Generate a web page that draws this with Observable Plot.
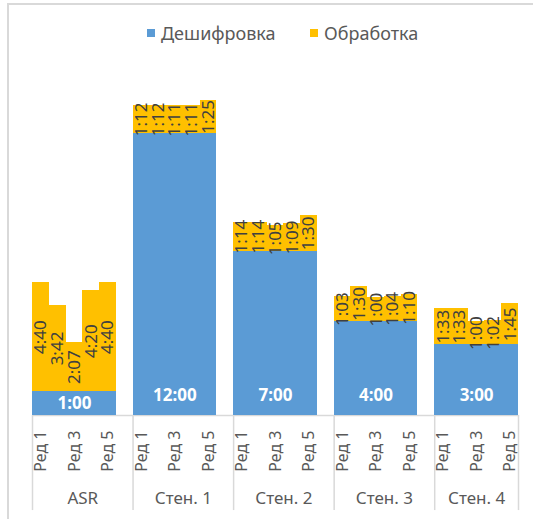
<!DOCTYPE html>
<html>
<head>
<meta charset="utf-8">
<script src="https://cdn.jsdelivr.net/npm/d3@7"></script>
<script src="https://cdn.jsdelivr.net/npm/@observablehq/plot@0.6"></script>
<style>
  html, body { margin: 0; padding: 0; background: #fff; overflow: hidden; }
  body { width: 533px; height: 519px; position: relative; font-family: "Noto Sans", sans-serif; }
  #frame { position: absolute; left: 7px; top: 3px; width: 600px; height: 600px;
           border-top: 2px solid #d9d9d9; border-left: 2px solid #d9d9d9; z-index: 2; pointer-events: none; }
  #legend { position: relative; height: 50px; }
  .item { position: absolute; top: 21px; display: flex; align-items: center; font-size: 18px; color: #595959; line-height: 24px; }
  .sw { width: 8px; height: 8px; margin-right: 6px; }
  #chart svg { display: block; }
</style>
</head>
<body>
<div id="frame"></div>
<div id="legend"></div>
<div id="chart"></div>
<script>
// ---- data ----
const groups = ["ASR", "Стен. 1", "Стен. 2", "Стен. 3", "Стен. 4"];
const editors = ["Ред 1", "Ред 2", "Ред 3", "Ред 4", "Ред 5"];
const tickEditors = ["Ред 1", "Ред 3", "Ред 5"];
const seriesNames = ["Дешифровка", "Обработка"];
const seriesColors = ["#5B9BD5", "#FFC000"];
// Дешифровка (same for every editor in a group)
const decipher = ["1:00", "12:00", "7:00", "4:00", "3:00"];
// Обработка per group, per editor
const procASR = ["4:40", "3:42", "2:07", "4:20", "4:40"];
const procS1  = ["1:12", "1:12", "1:11", "1:11", "1:25"];
const procS2  = ["1:14", "1:14", "1:05", "1:09", "1:30"];
const procS3  = ["1:03", "1:30", "1:00", "1:04", "1:10"];
const procS4  = ["1:33", "1:33", "1:00", "1:02", "1:45"];
const processing = [procASR, procS1, procS2, procS3, procS4];

// ---- build table ----
const toHours = s => { const [h, m] = s.split(":").map(Number); return h + m / 60; };
const slot = editors.length + 1; // one empty category after each group
const rows = [];
groups.forEach((g, gi) => {
  editors.forEach((e, ei) => {
    rows.push({
      group: g, editor: e, pos: gi * slot + ei,
      dec: toHours(decipher[gi]),
      proc: toHours(processing[gi][ei]),
      procLabel: processing[gi][ei]
    });
  });
});
const lastEnd = (groups.length - 1) * slot + editors.length;
const groupRows = groups.map((g, gi) => {
  const start = gi * slot;
  const end = Math.min(start + slot, lastEnd);
  return { group: g, start, center: (start + end) / 2, mid: start + editors.length / 2,
           dec: toHours(decipher[gi]), decLabel: decipher[gi] };
});
const bounds = groupRows.map(d => d.start).concat([lastEnd]);
const tickRows = rows.filter(d => tickEditors.includes(d.editor));

// ---- legend ----
const legend = document.getElementById("legend");
const lefts = [147, 310];
seriesNames.forEach((n, i) => {
  const it = document.createElement("div");
  it.className = "item";
  it.style.left = lefts[i] + "px";
  it.innerHTML = `<span class="sw" style="background:${seriesColors[i]}"></span><span>${n}</span>`;
  legend.appendChild(it);
});

// ---- plot ----
const gray = "#d9d9d9", txt = "#595959";
const chart = Plot.plot({
  width: 533, height: 469,
  marginLeft: 32, marginRight: 15, marginTop: 10, marginBottom: 0,
  style: { fontFamily: "Noto Sans", background: "transparent" },
  x: { domain: [0, lastEnd], axis: null },
  y: { domain: [-4.43, 15.11], axis: null },
  marks: [
    Plot.ruleY([0], { x1: 0, x2: lastEnd, stroke: gray, strokeWidth: 1.5 }),
    Plot.ruleX(bounds, { x: d => d, y1: 0, y2: -4.05, stroke: gray, strokeWidth: 1.5 }),
    Plot.rect(rows, { x1: "pos", x2: d => d.pos + 1, y1: 0, y2: "dec", fill: seriesColors[0],
                      shapeRendering: "crispEdges" }),
    Plot.rect(rows, { x1: "pos", x2: d => d.pos + 1, y1: "dec", y2: d => d.dec + d.proc, fill: seriesColors[1],
                      shapeRendering: "crispEdges" }),
    Plot.text(rows, { x: d => d.pos + 0.5, y: d => d.dec + d.proc / 2, text: "procLabel",
                      rotate: -90, fontSize: 17, fill: "#404040" }),
    Plot.text(groupRows, { x: "mid", y: d => Math.min(d.dec / 2, 0.83), text: "decLabel",
                           fontSize: 17, fontWeight: "bold", fill: "#fff" }),
    Plot.text(tickRows, { x: d => d.pos + 0.5, y: -0.64, text: "editor", rotate: -90,
                          textAnchor: "end", fontSize: 16, fill: txt }),
    Plot.text(groupRows, { x: "center", y: -3.53, text: "group", fontSize: 17, fill: txt })
  ]
});
document.getElementById("chart").appendChild(chart);
</script>
</body>
</html>
